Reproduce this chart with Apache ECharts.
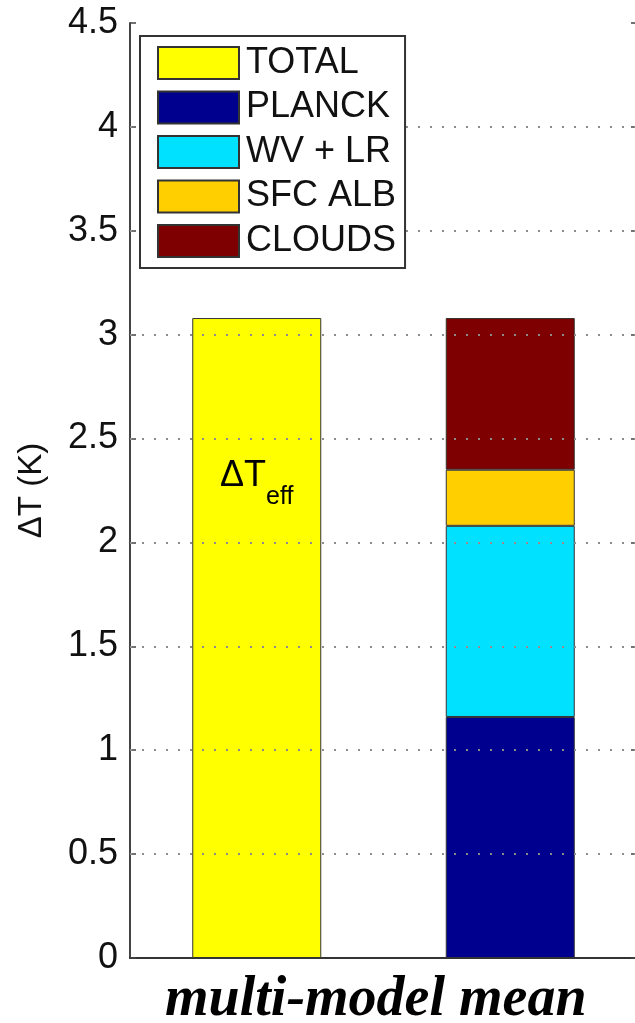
<!DOCTYPE html>
<html>
<head>
<meta charset="utf-8">
<script src="https://cdn.jsdelivr.net/npm/echarts@6/dist/echarts.min.js"></script>
<style>
html,body{margin:0;padding:0;background:#fff;}
#main{width:635px;height:1023px;}
</style>
</head>
<body>
<div id="main"></div>
<script>
const categories = ['TOTAL', 'COMPONENTS'];
const seriesNames = ['TOTAL', 'PLANCK', 'WV + LR', 'SFC ALB', 'CLOUDS'];
const totalValues = [3.08, '-'];
const planckValues = ['-', 1.16];
const wvlrValues = ['-', 0.92];
const sfcAlbValues = ['-', 0.27];
const cloudsValues = ['-', 0.73];
const yTicks = [0, 0.5, 1, 1.5, 2, 2.5, 3, 3.5, 4, 4.5];
const colors = ['#FFFF00', '#00008F', '#00E0FF', '#FFCF00', '#7F0000'];

const chart = echarts.init(document.getElementById('main'));
const font = 'Liberation Sans, Arial, sans-serif';
const seriesData = [totalValues, planckValues, wvlrValues, sfcAlbValues, cloudsValues];

const series = seriesNames.map((name, i) => {
  const s = {
    name: name,
    type: 'bar',
    stack: 'all',
    z: 1,
    data: seriesData[i],
    barWidth: 129,
    itemStyle: { color: colors[i], borderColor: '#333', borderWidth: 1 },
    label: { show: false }
  };
  if (i === 0) {
    s.label = {
      show: true,
      position: ['50%', 140],
      align: 'center',
      verticalAlign: 'top',
      formatter: '{a|ΔT}{b|eff}',
      rich: {
        a: { fontSize: 36, fontFamily: font, color: '#000', lineHeight: 36 },
        b: { fontSize: 25, fontFamily: font, color: '#000', lineHeight: 25, padding: [42, 0, 0, 0] }
      }
    };
  }
  return s;
});

// dotted grid drawn on top of the bars, as in the original
series.push({
  name: 'grid',
  type: 'line',
  data: [],
  z: 10,
  silent: true,
  markLine: {
    silent: true,
    symbol: 'none',
    label: { show: false },
    lineStyle: { color: '#8c8c8c', width: 2, type: [2, 10] },
    data: yTicks.slice(1, -1).map(v => ({ yAxis: v }))
  }
});

chart.setOption({
  animation: false,
  backgroundColor: '#fff',
  grid: { left: 130, top: 23, width: 507, bottom: 65, containLabel: false, outerBoundsMode: 'none' },
  legend: {
    orient: 'vertical',
    left: 140,
    top: 36,
    z: 20,
    data: seriesNames,
    icon: 'rect',
    itemWidth: 81,
    itemHeight: 32,
    itemGap: 8.5,
    padding: [9, 9, 9, 17],
    borderColor: '#333',
    borderWidth: 2,
    backgroundColor: '#fff',
    textStyle: { fontSize: 36, fontFamily: font, color: '#111', padding: [0, 0, 0, 2] },
    selectedMode: false
  },
  title: {
    text: 'multi-model mean',
    left: 160,
    top: 968,
    textStyle: { fontFamily: 'Liberation Serif, Times New Roman, serif', fontStyle: 'italic', fontWeight: 'bold', fontSize: 56, color: '#000' }
  },
  xAxis: [{
    type: 'category',
    data: categories,
    axisLine: { lineStyle: { color: '#333', width: 2 } },
    axisTick: { show: false },
    axisLabel: { show: false }
  }, {
    type: 'category',
    data: categories,
    position: 'top',
    axisLine: { lineStyle: { color: '#333', width: 2 } },
    axisTick: { show: false },
    axisLabel: { show: false }
  }],
  yAxis: [{
    type: 'value',
    min: 0,
    max: 4.5,
    interval: 0.5,
    name: 'ΔT (K)',
    nameLocation: 'middle',
    nameGap: 82,
    nameRotate: 90,
    nameTextStyle: { fontSize: 33, fontFamily: font, color: '#111' },
    axisLine: { show: true, lineStyle: { color: '#444', width: 2 } },
    axisTick: { show: true, inside: true, length: 6, lineStyle: { color: '#444', width: 1.5 } },
    axisLabel: {
      fontSize: 36, fontFamily: font, color: '#111', margin: 12,
      formatter: v => yTicks.includes(v) ? String(v) : ''
    },
    splitLine: { show: false }
  }, {
    type: 'value',
    min: 0,
    max: 4.5,
    interval: 0.5,
    position: 'right',
    axisLine: { show: true, lineStyle: { color: '#444', width: 2 } },
    axisTick: { show: true, inside: true, length: 6, lineStyle: { color: '#444', width: 1.5 } },
    axisLabel: { show: false },
    splitLine: { show: false }
  }],
  series: series
});
</script>
</body>
</html>
